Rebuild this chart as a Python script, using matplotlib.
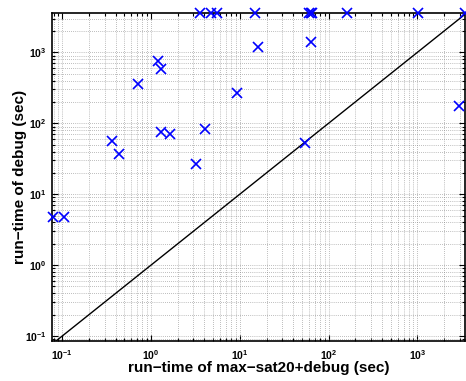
import matplotlib
matplotlib.use("Agg")
import matplotlib.pyplot as plt
import numpy as np
from matplotlib.ticker import LogLocator, NullFormatter

plt.rcParams["font.family"] = ["Liberation Sans", "DejaVu Sans"]
plt.rcParams["font.weight"] = "bold"
plt.rcParams["mathtext.default"] = "bf"

# run-times (sec); 3600 = timeout at the top
maxsat_time = [3.56, 4.72, 5.52, 14.8, 59.6, 62.8, 64.4, 163, 1026, 3450,
               1.2, 1.29, 0.715, 9.25, 15.9, 62.8, 2960, 53.7,
               0.365, 0.437, 1.29, 1.63, 4.05, 3.2, 0.078, 0.105]
debug_time = [3600, 3600, 3600, 3600, 3600, 3600, 3600, 3600, 3600, 3600,
              747, 575, 354, 264, 1175, 1383, 173, 52.3,
              55.7, 36.6, 74.6, 70, 82, 26.4, 4.74, 4.74]

xlim = (0.077, 3450)
ylim = (0.085, 3600)

fig = plt.figure(figsize=(4.66, 3.81), dpi=100)
ax = fig.add_axes([0.112, 0.105, 0.886, 0.861])

diag = np.array([0.01, 10000])
ax.plot(diag, diag, color="black", lw=1.0)
ax.plot(maxsat_time, debug_time, "x", color="blue", ms=7, mew=1.2,
        clip_on=False, zorder=5)

ax.set_xscale("log")
ax.set_yscale("log")
ax.set_xlim(*xlim)
ax.set_ylim(*ylim)

for a in (ax.xaxis, ax.yaxis):
    a.set_major_locator(LogLocator(base=10))
    a.set_minor_locator(LogLocator(base=10, subs=np.arange(2, 10)))
    a.set_minor_formatter(NullFormatter())

ax.grid(True, which="both", color="0.5", linestyle=(0, (1, 2)), lw=0.5)
ax.tick_params(which="both", direction="in", top=True, right=True,
               labelsize=7.5, pad=5, width=0.8)
ax.tick_params(axis="y", pad=4)
ax.tick_params(which="major", length=4)
ax.tick_params(which="minor", length=2)
for s in ax.spines.values():
    s.set_linewidth(1.2)

ax.set_xlabel("run\u2212time of max\u2212sat20+debug (sec)", fontsize=11,
              fontweight="bold")
ax.set_ylabel("run\u2212time of debug (sec)", fontsize=11,
              fontweight="bold")
ax.xaxis.set_label_coords(0.5, -0.062)
ax.yaxis.set_label_coords(-0.06, 0.5)

fig.savefig("out.png", dpi=100)
